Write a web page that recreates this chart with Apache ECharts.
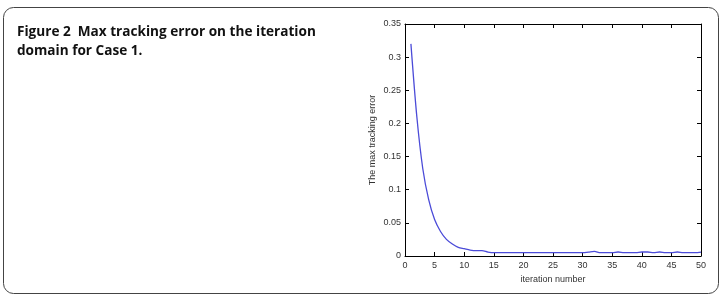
<!DOCTYPE html>
<html>
<head>
<meta charset="utf-8">
<script src="https://cdn.jsdelivr.net/npm/echarts@6/dist/echarts.min.js"></script>
<style>
  html, body { margin: 0; padding: 0; background: #fff; }
  #chart { width: 721px; height: 302px; }
</style>
</head>
<body>
<div id="chart"></div>
<script>
// iteration numbers 1..50
const iterations = [
    1, 2, 3, 4, 5, 6, 7, 8, 9, 10,
    11, 12, 13, 14, 15, 16, 17, 18, 19, 20,
    21, 22, 23, 24, 25, 26, 27, 28, 29, 30,
    31, 32, 33, 34, 35, 36, 37, 38, 39, 40,
    41, 42, 43, 44, 45, 46, 47, 48, 49, 50
];
// max tracking error
const maxError = [
    0.320, 0.210, 0.132, 0.085, 0.055, 0.037, 0.025, 0.018, 0.013, 0.011,
    0.009, 0.008, 0.008, 0.006, 0.005, 0.005, 0.005, 0.005, 0.005, 0.005,
    0.005, 0.005, 0.005, 0.005, 0.005, 0.005, 0.005, 0.005, 0.005, 0.005,
    0.006, 0.007, 0.005, 0.005, 0.005, 0.006, 0.005, 0.005, 0.005, 0.006,
    0.006, 0.005, 0.006, 0.005, 0.005, 0.006, 0.005, 0.005, 0.005, 0.006
];
const xTicks = [0, 5, 10, 15, 20, 25, 30, 35, 40, 45, 50];
const yTicks = [0, 0.05, 0.1, 0.15, 0.2, 0.25, 0.3, 0.35];

const chart = echarts.init(document.getElementById('chart'));

const tickFont = { fontFamily: 'Liberation Sans', fontSize: 9, color: '#333' };
const frameAxis = { show: true, onZero: false, lineStyle: { color: '#000', width: 1 } };
const innerTick = { show: true, inside: true, length: 4, lineStyle: { color: '#000' } };

const option = {
    animation: false,
    title: {
        text: 'Figure 2  Max tracking error on the iteration\ndomain for Case 1.',
        left: 12,
        top: 18,
        textStyle: {
            fontFamily: 'Open Sans',
            fontSize: 13.6,
            fontWeight: 'bold',
            color: '#111',
            lineHeight: 19
        }
    },
    graphic: [{
        type: 'rect',
        shape: { x: 3.5, y: 7.5, width: 715, height: 286, r: 10 },
        style: { fill: 'none', stroke: '#444', lineWidth: 1 },
        silent: true
    }],
    grid: { left: 405, right: 20, top: 24, bottom: 46 },
    xAxis: [{
        type: 'value',
        min: 0, max: 50, interval: 5,
        name: 'iteration number',
        nameLocation: 'middle',
        nameGap: 14,
        nameTextStyle: { fontFamily: 'Liberation Sans', fontSize: 9, color: '#333' },
        axisLine: frameAxis,
        axisTick: innerTick,
        axisLabel: Object.assign({ margin: 5, formatter: v => xTicks.includes(v) ? String(v) : '' }, tickFont),
        splitLine: { show: false }
    }, {
        type: 'value',
        position: 'top',
        min: 0, max: 50, interval: 5,
        axisLine: frameAxis,
        axisTick: innerTick,
        axisLabel: { show: false },
        splitLine: { show: false }
    }],
    yAxis: [{
        type: 'value',
        min: 0, max: 0.35, interval: 0.05,
        name: 'The max tracking error',
        nameLocation: 'middle',
        nameGap: 28,
        nameTextStyle: { fontFamily: 'Liberation Sans', fontSize: 9, color: '#333' },
        axisLine: frameAxis,
        axisTick: innerTick,
        axisLabel: Object.assign({
            margin: 4,
            formatter: v => {
                const t = yTicks.find(y => Math.abs(y - v) < 1e-9);
                return t === undefined ? '' : String(+t.toFixed(2));
            }
        }, tickFont),
        splitLine: { show: false }
    }, {
        type: 'value',
        position: 'right',
        min: 0, max: 0.35, interval: 0.05,
        axisLine: frameAxis,
        axisTick: innerTick,
        axisLabel: { show: false },
        splitLine: { show: false }
    }],
    series: [{
        type: 'line',
        data: iterations.map((it, i) => [it, maxError[i]]),
        showSymbol: false,
        smooth: 0.3,
        lineStyle: { color: '#4b4bd8', width: 1.3 },
        xAxisIndex: 0,
        yAxisIndex: 0
    }]
};

chart.setOption(option);
</script>
</body>
</html>
